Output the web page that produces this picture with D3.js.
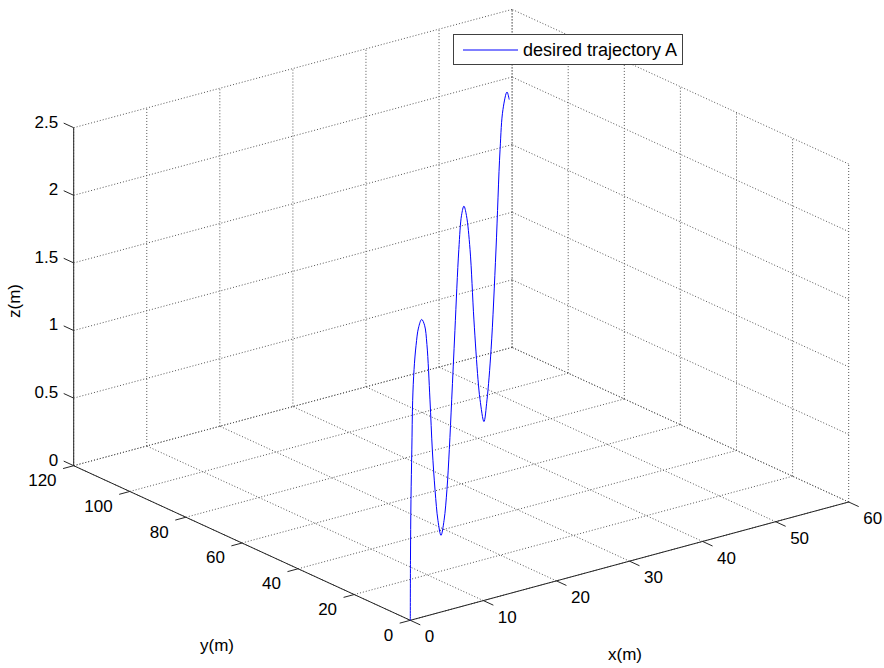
<!DOCTYPE html>
<html>
<head>
<meta charset="utf-8">
<script src="https://cdn.jsdelivr.net/npm/d3@7"></script>
<style>
  html, body { margin: 0; padding: 0; background: #fff; }
  svg { display: block; }
  text { font-family: "Liberation Sans", Arial, Helvetica, sans-serif; font-size: 17px; fill: #000; }
</style>
</head>
<body>
<svg id="chart" width="884" height="668"></svg>
<script>
// Axis ticks and labels
const xTicks = [0, 10, 20, 30, 40, 50, 60];
const yTicks = [0, 20, 40, 60, 80, 100, 120];
const zTicks = [0, 0.5, 1, 1.5, 2, 2.5];
const xTickLabels = ["0", "10", "20", "30", "40", "50", "60"];
const yTickLabels = ["0", "20", "40", "60", "80", "100", "120"];
const zTickLabels = ["0", "0.5", "1", "1.5", "2", "2.5"];

// Desired trajectory A (metres)
const trajX = [0, 0.1, 0.4, 0.9, 1.4, 2.2, 3.4, 4.8, 6.7, 8.4, 9.8, 11.6, 13.0, 14.6, 16.3, 18.1,
  19.9, 21.6, 23.0, 24.4, 26.3, 28.6, 30.2, 31.6, 33.1, 35.2, 37.5, 39.9, 41.1, 43.4,
  45.2, 47.6, 50.5, 52.9, 54.6, 57.0, 58.3];
const trajY = [0, 0.2, 0.8, 1.8, 2.8, 4.4, 6.8, 9.6, 13.4, 16.8, 19.6, 23.2, 26.0, 29.2, 32.6, 36.2,
  39.8, 43.2, 46.0, 48.8, 52.6, 57.2, 60.4, 63.2, 66.2, 70.4, 75.0, 79.8, 82.2, 86.8,
  90.4, 95.2, 101.0, 105.8, 109.2, 114.0, 116.6];
const trajZ = [0, 0.44, 0.88, 1.23, 1.58, 1.78, 1.92, 2.0, 2.0, 1.9, 1.71, 1.24, 0.82, 0.47, 0.19, 0.02,
  0.07, 0.24, 0.49, 0.81, 1.26, 1.78, 1.98, 2.0, 1.88, 1.56, 0.96, 0.44, 0.25, 0.01,
  0.11, 0.40, 1.04, 1.70, 1.94, 1.99, 1.89];

const svg = d3.select("#chart");

// Data -> unit cube
const fx = d3.scaleLinear().domain([0, 60]).range([0, 1]);
const fy = d3.scaleLinear().domain([0, 120]).range([0, 1]);
const fz = d3.scaleLinear().domain([0, 2.5]).range([0, 1]);

// Unit cube -> screen (default 3-D view, az -37.5, el 30)
const origin = [410.3, 620.3];
const ex = [438.4, -118.3];
const ey = [-336.6, -154.6];
const ez = [0, -338.0];
function proj(x, y, z) {
  const a = fx(x), b = fy(y), c = fz(z);
  return [origin[0] + a * ex[0] + b * ey[0] + c * ez[0],
          origin[1] + a * ex[1] + b * ey[1] + c * ez[1]];
}

const xMax = 60, yMax = 120, zMax = 2.5;
const gridG = svg.append("g")
  .attr("fill", "none")
  .attr("stroke", "#555")
  .attr("stroke-width", 1)
  .attr("stroke-dasharray", "1,2");

function seg(g, p, q) {
  g.append("line")
    .attr("x1", p[0]).attr("y1", p[1])
    .attr("x2", q[0]).attr("y2", q[1]);
}

// Back wall y = yMax
xTicks.forEach(v => seg(gridG, proj(v, yMax, 0), proj(v, yMax, zMax)));
zTicks.forEach(v => seg(gridG, proj(0, yMax, v), proj(xMax, yMax, v)));
// Side wall x = xMax
yTicks.forEach(v => seg(gridG, proj(xMax, v, 0), proj(xMax, v, zMax)));
zTicks.forEach(v => seg(gridG, proj(xMax, 0, v), proj(xMax, yMax, v)));
// Floor z = 0
xTicks.forEach(v => seg(gridG, proj(v, 0, 0), proj(v, yMax, 0)));
yTicks.forEach(v => seg(gridG, proj(0, v, 0), proj(xMax, v, 0)));

// Axis lines
const axisG = svg.append("g").attr("stroke", "#262626").attr("stroke-width", 1).attr("fill", "none");
seg(axisG, proj(0, 0, 0), proj(xMax, 0, 0));
seg(axisG, proj(0, 0, 0), proj(0, yMax, 0));
seg(axisG, proj(0, yMax, 0), proj(0, yMax, zMax));

const tickLen = 11;
function unit(v) { const n = Math.hypot(v[0], v[1]); return [v[0] / n, v[1] / n]; }
const ux = unit(ex), uy = unit(ey);

// x ticks point along -y
xTicks.forEach((v, i) => {
  const p = proj(v, 0, 0);
  const q = [p[0] - uy[0] * tickLen, p[1] - uy[1] * tickLen];
  seg(axisG, p, q);
  svg.append("text").attr("x", q[0] + 4.5).attr("y", q[1] + 12)
    .attr("dominant-baseline", "central").attr("text-anchor", "start")
    .text(xTickLabels[i]);
});
// y ticks point along -x
yTicks.forEach((v, i) => {
  const p = proj(0, v, 0);
  const q = [p[0] - ux[0] * tickLen, p[1] - ux[1] * tickLen];
  seg(axisG, p, q);
  svg.append("text").attr("x", q[0] - 6.5).attr("y", q[1] + 12)
    .attr("dominant-baseline", "central").attr("text-anchor", "end")
    .text(yTickLabels[i]);
});
// z ticks point along +y
zTicks.forEach((v, i) => {
  const p = proj(0, yMax, v);
  const q = [p[0] + uy[0] * tickLen, p[1] + uy[1] * tickLen];
  seg(axisG, p, q);
  svg.append("text").attr("x", q[0] - 5.5).attr("y", q[1] - 1)
    .attr("dominant-baseline", "central").attr("text-anchor", "end")
    .text(zTickLabels[i]);
});

// Axis titles
svg.append("text").attr("x", 625).attr("y", 654).attr("text-anchor", "middle")
  .attr("dominant-baseline", "central").text("x(m)");
svg.append("text").attr("x", 217).attr("y", 645).attr("text-anchor", "middle")
  .attr("dominant-baseline", "central").text("y(m)");
svg.append("text").attr("transform", "translate(14,301) rotate(-90)").attr("text-anchor", "middle")
  .attr("dominant-baseline", "central").text("z(m)");

// Trajectory
const pts = trajX.map((x, i) => proj(x, trajY[i], trajZ[i]));
const line = d3.line().curve(d3.curveCatmullRom.alpha(0.5));
svg.append("path").attr("d", line(pts))
  .attr("fill", "none").attr("stroke", "#0000ff").attr("stroke-width", 1);

// Legend
const lg = svg.append("g");
lg.append("rect").attr("x", 453.5).attr("y", 34.5).attr("width", 229).attr("height", 30)
  .attr("fill", "#fff").attr("stroke", "#404040").attr("stroke-width", 1);
lg.append("line").attr("x1", 463).attr("y1", 50).attr("x2", 518).attr("y2", 50)
  .attr("stroke", "#0000ff").attr("stroke-width", 1);
lg.append("text").attr("x", 523).attr("y", 50).attr("dominant-baseline", "central")
  .style("font-size", "18px")
  .text("desired trajectory A");
</script>
</body>
</html>
